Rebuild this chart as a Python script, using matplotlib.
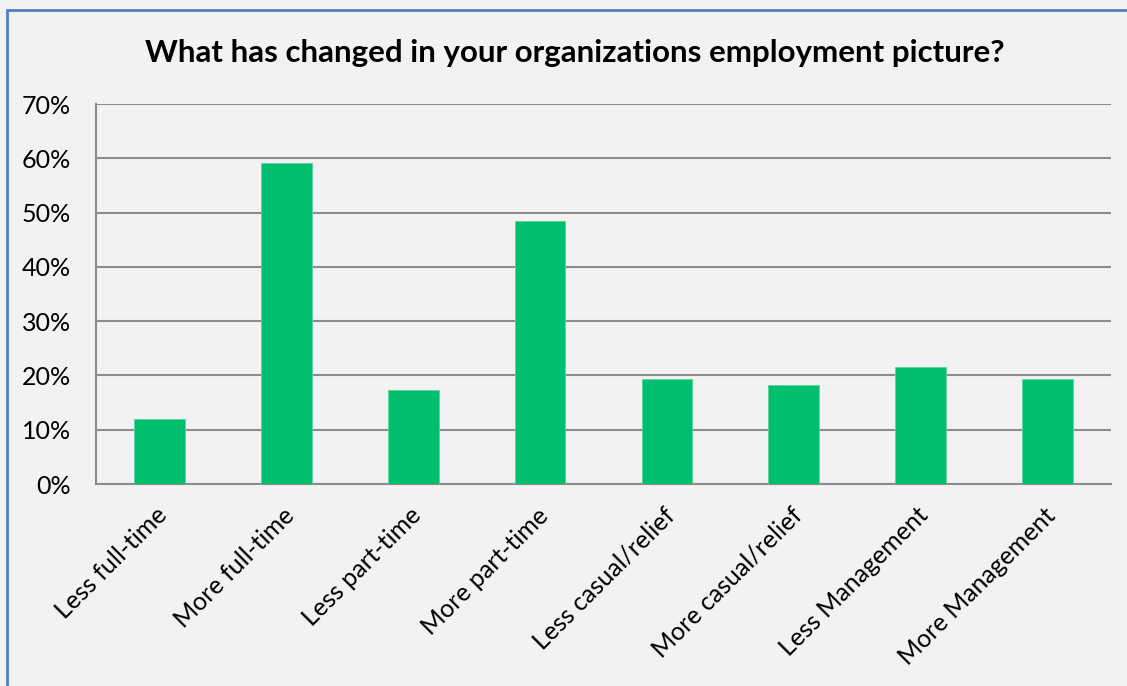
import matplotlib.pyplot as plt
from matplotlib.patches import Rectangle
from matplotlib.ticker import PercentFormatter
from matplotlib.transforms import ScaledTranslation

categories = ['Less full-time', 'More full-time', 'Less part-time', 'More part-time',
              'Less casual/relief', 'More casual/relief', 'Less Management', 'More Management']
shares = [11.9, 59.1, 17.3, 48.4, 19.3, 18.3, 21.5, 19.3]
yticks = [0, 10, 20, 30, 40, 50, 60, 70]

bg = '#F2F2F2'
bar_color = '#00BF6F'
grid_color = '#8C8C8C'

plt.rcParams['font.family'] = ['Lato', 'DejaVu Sans']

fig = plt.figure(figsize=(11.27, 6.86), dpi=100, facecolor=bg)
ax = fig.add_axes([96 / 1127, 1 - 484 / 686, (1111 - 96) / 1127, (484 - 104) / 686])
ax.set_facecolor(bg)

x = range(len(categories))
ax.bar(x, shares, width=0.4, color=bar_color, edgecolor='#5BD39B', linewidth=0.6, zorder=3)

ax.set_xlim(-0.5, len(categories) - 0.5)
ax.set_ylim(0, 70)
ax.set_yticks(yticks)
ax.yaxis.set_major_formatter(PercentFormatter(decimals=0))
ax.grid(axis='y', color=grid_color, linewidth=1.5, zorder=0)
ax.set_axisbelow(True)

for side in ['top', 'right']:
    ax.spines[side].set_visible(False)
for side in ['left', 'bottom']:
    ax.spines[side].set_color(grid_color)
    ax.spines[side].set_linewidth(1.5)

ax.tick_params(axis='y', length=0, pad=18, labelsize=18)
ax.tick_params(axis='x', length=0, pad=14, labelsize=18)
ax.set_xticks(list(x))
ax.set_xticklabels(categories, rotation=45, ha='right', va='top', rotation_mode='anchor')
# nudge the slanted labels a little to the left
shift = ScaledTranslation(-4 / 100, 0, fig.dpi_scale_trans)
for lbl in ax.get_xticklabels():
    lbl.set_transform(lbl.get_transform() + shift)

fig.text(0.51, 1 - 53 / 686, 'What has changed in your organizations employment picture?',
         ha='center', va='center', fontsize=22.5, fontweight='bold')

# blue frame around the chart
fig.patches.append(Rectangle((7 / 1127, -0.01), 1.02, 1 - 10 / 686 + 0.01,
                             transform=fig.transFigure, fill=False,
                             edgecolor='#4F81BD', linewidth=2))

fig.savefig('out.png', dpi=100, facecolor=bg)
